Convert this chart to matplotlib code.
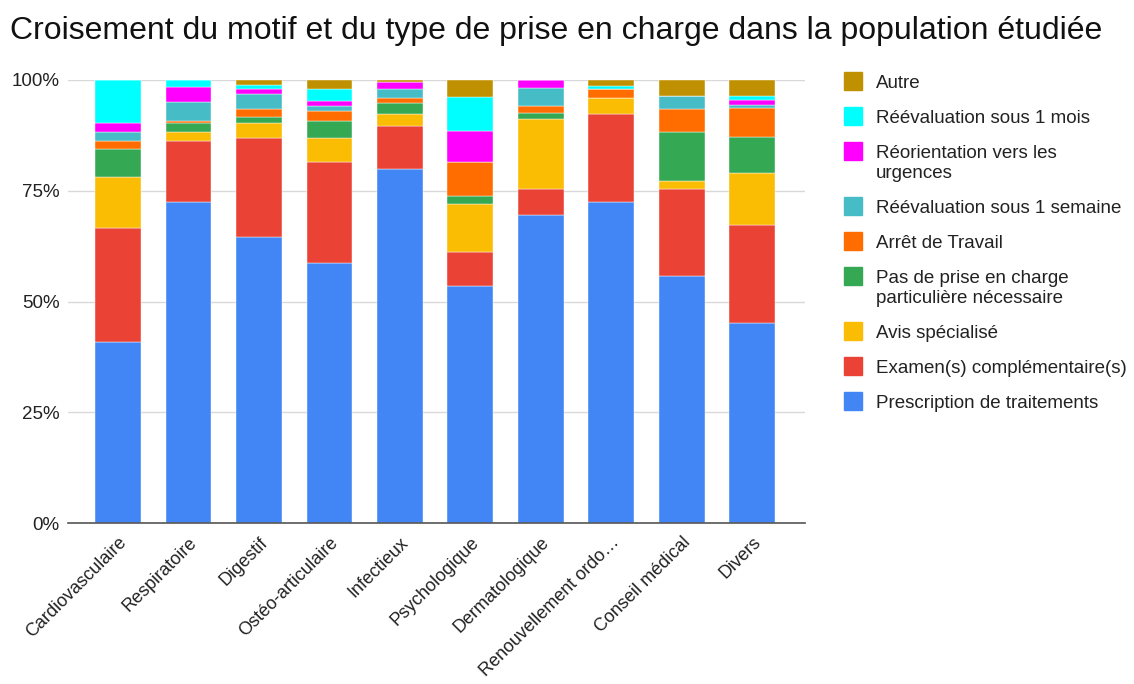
import matplotlib.pyplot as plt
from matplotlib.patches import Rectangle
from matplotlib.ticker import FuncFormatter

plt.rcParams['font.family'] = ['Liberation Sans', 'DejaVu Sans']

motifs = ["Cardiovasculaire", "Respiratoire", "Digestif", "Ostéo-articulaire",
          "Infectieux", "Psychologique", "Dermatologique", "Renouvellement ordo…",
          "Conseil médical", "Divers"]

# percentages per type de prise en charge (bottom to top)
prescription = [40.9, 72.4, 64.5, 58.7, 80.0, 53.6, 69.5, 72.4, 55.8, 45.2]
examens      = [25.7, 13.8, 22.3, 22.7, 9.7, 7.6, 5.8, 19.9, 19.5, 22.1]
avis         = [11.5, 2.1, 3.6, 5.4, 2.6, 10.7, 15.8, 3.6, 1.8, 11.6]
pas_de_pec   = [6.3, 2.1, 1.2, 4.0, 2.5, 1.9, 1.5, 0.0, 11.2, 8.2]
arret        = [1.8, 0.4, 1.8, 2.2, 1.1, 7.6, 1.5, 2.1, 5.1, 6.6]
reev_sem     = [2.1, 4.3, 3.5, 1.1, 2.1, 0.0, 4.2, 0.0, 3.1, 0.7]
reorient     = [1.9, 3.3, 1.1, 1.1, 1.5, 7.2, 1.7, 0.0, 0.0, 1.1]
reev_mois    = [9.8, 1.6, 0.8, 2.8, 0.0, 7.6, 0.0, 0.7, 0.0, 1.0]
autre        = [0.0, 0.0, 1.2, 2.0, 0.5, 3.8, 0.0, 1.3, 3.5, 3.5]

series = [
    ("Prescription de traitements", prescription, "#4285F4"),
    ("Examen(s) complémentaire(s)", examens, "#EA4335"),
    ("Avis spécialisé", avis, "#FBBC04"),
    ("Pas de prise en charge\nparticulière nécessaire", pas_de_pec, "#34A853"),
    ("Arrêt de Travail", arret, "#FF6D01"),
    ("Réévaluation sous 1 semaine", reev_sem, "#46BDC6"),
    ("Réorientation vers les\nurgences", reorient, "#FF00FF"),
    ("Réévaluation sous 1 mois", reev_mois, "#00FFFF"),
    ("Autre", autre, "#BF9000"),
]

W, H = 1134, 684
fig = plt.figure(figsize=(W / 100, H / 100), dpi=100)
ax = fig.add_axes([68 / W, 1 - 523 / H, (805 - 68) / W, (523 - 80) / H])

x = list(range(len(motifs)))
totals = [sum(s[1][i] for s in series) for i in x]
bottom = [0.0] * len(motifs)
for name, vals, col in series:
    pct = [v / t * 100 for v, t in zip(vals, totals)]
    ax.bar(x, pct, 0.65, bottom=bottom, color=col, label=name,
           edgecolor='white', linewidth=0.3)
    bottom = [b + p for b, p in zip(bottom, pct)]

ax.set_xlim(-0.71, 9.75)
ax.set_ylim(0, 100)
ax.set_yticks([0, 25, 50, 75, 100])
ax.yaxis.set_major_formatter(FuncFormatter(lambda v, p: f"{int(v)}%"))
ax.grid(axis='y', color='#d9d9d9', linewidth=1)
ax.set_axisbelow(True)
for s in ['top', 'right', 'left']:
    ax.spines[s].set_visible(False)
ax.spines['bottom'].set_color('#555555')
ax.spines['bottom'].set_linewidth(1.2)
ax.tick_params(axis='both', length=0, colors='#222222')
ax.tick_params(axis='y', labelsize=13.5, pad=6)
ax.tick_params(axis='x', labelsize=13, pad=8)
ax.set_xticks(x)
ax.set_xticklabels(motifs, rotation=45, ha='right', rotation_mode='anchor')

# legend drawn by hand: swatch aligned with first line of each label
y = 81
for name, vals, col in series[::-1]:
    fig.patches.append(Rectangle((844 / W, 1 - (y + 9) / H), 18 / W, 18 / H,
                                 transform=fig.transFigure, color=col))
    fig.text(876 / W, 1 - (y - 6) / H, name, fontsize=13.5, va='top', ha='left',
             color='#222222', linespacing=1.2)
    y += 35 + 20 * name.count("\n")

fig.text(10 / W, 1 - 31 / H,
         "Croisement du motif et du type de prise en charge dans la population étudiée",
         fontsize=23, va='center', ha='left', color='#111111')

fig.savefig("out.png", dpi=100)
